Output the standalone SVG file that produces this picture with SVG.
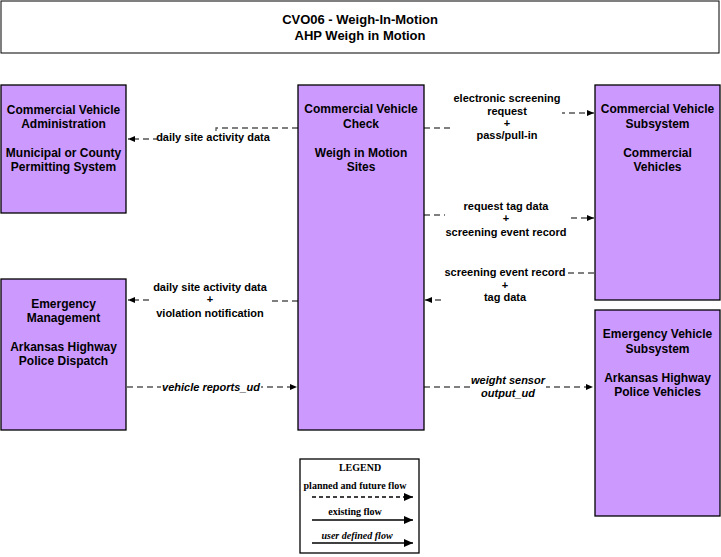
<svg xmlns="http://www.w3.org/2000/svg" width="721" height="557" viewBox="0 0 721 557">
<style>
.box{fill:#CC99FF;stroke:#000;stroke-width:1.3}
.nt{font-family:"Liberation Sans",Arial,sans-serif;font-size:12px;font-weight:bold;text-anchor:middle;fill:#000}
.lt{font-family:"Liberation Sans",Arial,sans-serif;font-size:11px;font-weight:bold;text-anchor:middle;fill:#000}
.it{font-style:italic}
.fl{fill:none;stroke:#555;stroke-width:1.3;stroke-dasharray:6,4}
.bg{fill:#fff}
.lg{font-family:"Liberation Serif","Times New Roman",serif;font-size:10px;font-weight:bold;text-anchor:middle;fill:#000}
</style>
<defs>
<marker id="ah" markerWidth="7" markerHeight="6" refX="7" refY="3" orient="auto" markerUnits="userSpaceOnUse">
<path d="M0,0 L7,3 L0,6 Z" fill="#000"/>
</marker>
<marker id="lah" markerWidth="9" markerHeight="8" refX="9" refY="4" orient="auto" markerUnits="userSpaceOnUse">
<path d="M0,0 L9,4 L0,8 Z" fill="#000"/>
</marker>
</defs>
<rect width="721" height="557" fill="#fff"/>
<g id="title">
<rect x="1" y="1" width="718" height="52" fill="#fff" stroke="#000" stroke-width="1"/>
<text x="360" y="24" class="nt" style="font-size:13px">CVO06 - Weigh-In-Motion</text>
<text x="360" y="40" class="nt" style="font-size:13px">AHP Weigh in Motion</text>
</g>
<g id="connectors">
<path class="fl" d="M298,128 H216 V139 H128" marker-end="url(#ah)"/>
<path class="fl" d="M424,128 H507 V113 H594" marker-end="url(#ah)"/>
<path class="fl" d="M424,215 H507 V218 H594" marker-end="url(#ah)"/>
<path class="fl" d="M594,273 H505 V300 H425" marker-end="url(#ah)"/>
<path class="fl" d="M298,301 H209 V300 H128" marker-end="url(#ah)"/>
<path class="fl" d="M127,387 H297" marker-end="url(#ah)"/>
<path class="fl" d="M424,387 H593" marker-end="url(#ah)"/>
<rect class="bg" x="157" y="131" width="113" height="13"/>
<text x="213" y="141" class="lt">daily site activity data</text>
<rect class="bg" x="454" y="92" width="108" height="50"/>
<text x="507" y="102" class="lt">electronic screening</text>
<text x="507" y="115" class="lt">request</text>
<text x="507" y="127" class="lt">+</text>
<text x="507" y="139" class="lt">pass/pull-in</text>
<rect class="bg" x="445" y="199" width="122" height="41"/>
<text x="506" y="210" class="lt">request tag data</text>
<text x="506" y="222" class="lt">+</text>
<text x="506" y="236" class="lt">screening event record</text>
<rect class="bg" x="444" y="265" width="122" height="40"/>
<text x="505" y="276" class="lt">screening event record</text>
<text x="505" y="289" class="lt">+</text>
<text x="505" y="301" class="lt">tag data</text>
<rect class="bg" x="153" y="281" width="116" height="40"/>
<text x="210" y="291" class="lt">daily site activity data</text>
<text x="210" y="303" class="lt">+</text>
<text x="210" y="317" class="lt">violation notification</text>
<rect class="bg" x="161" y="381" width="100" height="13"/>
<text x="211" y="391" class="lt it">vehicle reports_ud</text>
<rect class="bg" x="470" y="373" width="76" height="28"/>
<text x="508" y="384" class="lt it">weight sensor</text>
<text x="508" y="397" class="lt it">output_ud</text>
</g>
<g id="cva">
<rect class="box" x="1" y="85" width="125" height="128"/>
<text x="63.5" y="114" class="nt">Commercial Vehicle</text>
<text x="63.5" y="128" class="nt">Administration</text>
<text x="63.5" y="157" class="nt">Municipal or County</text>
<text x="63.5" y="171" class="nt">Permitting System</text>
</g>
<g id="cvc">
<rect class="box" x="298" y="85" width="126" height="345"/>
<text x="361" y="113" class="nt">Commercial Vehicle</text>
<text x="361" y="128" class="nt">Check</text>
<text x="361" y="157" class="nt">Weigh in Motion</text>
<text x="361" y="171" class="nt">Sites</text>
</g>
<g id="cvs">
<rect class="box" x="595" y="85" width="125" height="215"/>
<text x="657.5" y="113" class="nt">Commercial Vehicle</text>
<text x="657.5" y="128" class="nt">Subsystem</text>
<text x="657.5" y="157" class="nt">Commercial</text>
<text x="657.5" y="171" class="nt">Vehicles</text>
</g>
<g id="em">
<rect class="box" x="1" y="279" width="125" height="151"/>
<text x="63.5" y="308" class="nt">Emergency</text>
<text x="63.5" y="322" class="nt">Management</text>
<text x="63.5" y="351" class="nt">Arkansas Highway</text>
<text x="63.5" y="365" class="nt">Police Dispatch</text>
</g>
<g id="evs">
<rect class="box" x="595" y="310" width="125" height="206"/>
<text x="657.5" y="338" class="nt">Emergency Vehicle</text>
<text x="657.5" y="353" class="nt">Subsystem</text>
<text x="657.5" y="382" class="nt">Arkansas Highway</text>
<text x="657.5" y="396" class="nt">Police Vehicles</text>
</g>
<g id="legend">
<rect x="300" y="459" width="119" height="94" fill="#fff" stroke="#000" stroke-width="1.3"/>
<text x="360" y="471" class="lg">LEGEND</text>
<text x="355" y="489" class="lg">planned and future flow</text>
<path d="M312,497 H413" stroke="#000" stroke-width="1.3" stroke-dasharray="4,3" marker-end="url(#lah)"/>
<text x="355" y="515" class="lg">existing flow</text>
<path d="M312,520 H413" stroke="#000" stroke-width="1.3" marker-end="url(#lah)"/>
<text x="357" y="539" class="lg" font-style="italic">user defined flow</text>
<path d="M312,543 H413" stroke="#000" stroke-width="1.3" marker-end="url(#lah)"/>
</g>
</svg>
